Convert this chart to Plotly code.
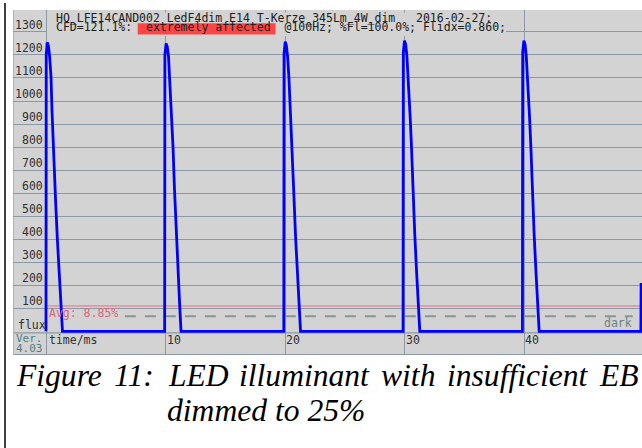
import plotly.graph_objects as go

# ---------------- data ----------------
time_ms = [
    0.00, 0.02, 0.10, 0.20, 0.30, 0.42, 0.50, 0.56, 0.68, 0.80, 0.95, 1.13, 1.26, 1.38,
    9.93, 9.95, 10.05, 10.15, 10.25, 10.35, 10.46, 10.52, 10.63, 10.75, 10.90, 11.05, 11.18, 11.30,
    19.90, 19.92, 20.02, 20.12, 20.22, 20.33, 20.43, 20.50, 20.61, 20.73, 20.88, 21.04, 21.17, 21.30,
    29.88, 29.90, 30.00, 30.10, 30.20, 30.31, 30.41, 30.48, 30.59, 30.71, 30.86, 31.02, 31.15, 31.28,
    39.87, 39.89, 39.99, 40.09, 40.19, 40.30, 40.40, 40.47, 40.58, 40.70, 40.85, 41.01, 41.14, 41.27,
    49.78, 49.80,
]
flux = [
    0, 1200, 1255, 1240, 1195, 1105, 960, 870, 720, 570, 400, 220, 113, 0,
    0, 1200, 1250, 1235, 1195, 1100, 1000, 930, 800, 620, 420, 250, 120, 0,
    0, 1205, 1258, 1240, 1190, 1100, 990, 920, 790, 610, 415, 245, 118, 0,
    0, 1210, 1262, 1245, 1195, 1105, 995, 925, 795, 615, 420, 250, 120, 0,
    0, 1210, 1262, 1245, 1195, 1105, 995, 925, 795, 615, 420, 250, 120, 0,
    0, 210,
]
y_ticks = [100, 200, 300, 400, 500, 600, 700, 800, 900, 1000, 1100, 1200, 1300]
y_tick_labels = [str(v) for v in y_ticks]
x_ticks = [0, 10, 20, 30, 40]
x_tick_labels = ["", "10", "20", "30", "40"]
avg_flux = 110
avg_label = "Avg: 8.85%"
dark_flux = 65
dark_span_ms = [6.6, 49.1]

NB = "\u00a0"
header_line1 = "HQ_LFE14CAND002_LedF4dim_E14_T-Kerze_345Lm_4W_dim" + NB * 3 + "2016-02-27:"
header_line2 = ("CFD=121.1%:" + NB * 2 + "extremely" + NB + "affected" + NB * 2
                + "@100Hz;" + NB + "%Fl=100.0%;" + NB + "Flidx=0.860;")
caption_line1 = "Figure 11: LED illuminant with insufficient EB"
caption_line2 = "dimmed to 25%"

# ---------------- layout geometry (pixels) ----------------
W, H = 642, 448
def px(x): return x / W
def py(y): return 1 - y / H

T_PX0, PX_PER_MS = 46.0, 11.95
V_PX0, PX_PER_UNIT = 331.3, 0.2303
x_range = [(13 - T_PX0) / PX_PER_MS, (642 - T_PX0) / PX_PER_MS]
y_range = [(V_PX0 - 355) / PX_PER_UNIT, (V_PX0 - 10) / PX_PER_UNIT]

BG = "#d3d3d3"
GRID = "#8b98a5"
MONO = "DejaVu Sans Mono"
FS = 11.5
CAP_FS = 31.6

fig = go.Figure()
fig.add_trace(go.Scatter(x=[0, x_range[1]], y=[avg_flux, avg_flux], mode="lines",
                         line=dict(color="#e07080", width=1), hoverinfo="skip"))
fig.add_trace(go.Scatter(x=dark_span_ms, y=[dark_flux, dark_flux], mode="lines",
                         line=dict(color="#8a9696", width=2, dash="11px,9px"), hoverinfo="skip"))
fig.add_trace(go.Scatter(x=time_ms, y=flux, mode="lines",
                         line=dict(color="#0000ff", width=2.8), hoverinfo="skip"))

shapes = []
shapes.append(dict(type="line", xref="paper", yref="paper", x0=px(5), x1=px(5), y0=py(3), y1=0,
                   line=dict(color="black", width=1.5)))
shapes.append(dict(type="line", xref="paper", yref="paper", x0=px(13), x1=1, y0=py(332.8), y1=py(332.8),
                   line=dict(color=GRID, width=1.2), layer="below"))
shapes.append(dict(type="line", xref="paper", yref="paper", x0=px(13), x1=1, y0=py(354.5), y1=py(354.5),
                   line=dict(color=GRID, width=1), layer="below"))
shapes.append(dict(type="line", xref="paper", yref="paper", x0=px(13.5), x1=px(13.5), y0=py(10), y1=py(355),
                   line=dict(color="#aab2ba", width=1), layer="below"))
shapes.append(dict(type="rect", xref="paper", yref="paper", x0=px(47), x1=px(506), y0=py(36), y1=py(12.5),
                   fillcolor=BG, line=dict(width=0), layer="above"))
shapes.append(dict(type="rect", xref="paper", yref="paper", x0=px(137.7), x1=px(275.5), y0=py(34.4), y1=py(23.3),
                   fillcolor="#ff4444", line=dict(width=0), layer="above"))

ann = []
def txt(text, x, y, color="#303030", size=FS, family=MONO, xanchor="left", style="normal"):
    ann.append(dict(text=text, x=x, y=y, xref="paper", yref="paper", xanchor=xanchor, yanchor="middle",
                    showarrow=False, borderpad=0,
                    font=dict(family=family, size=size, color=color, style=style)))

for v, lab in zip(y_ticks, y_tick_labels):
    ann.append(dict(text=lab, x=px(44.5), y=v, xref="paper", yref="y", xanchor="right", yanchor="bottom",
                    showarrow=False, yshift=-1, borderpad=0, font=dict(family=MONO, size=FS, color="#303030")))
for v, lab in zip(x_ticks, x_tick_labels):
    if lab:
        ann.append(dict(text=lab, x=v, y=py(339.5), xref="x", yref="paper", xanchor="left", yanchor="middle",
                        showarrow=False, borderpad=0, font=dict(family=MONO, size=FS, color="#303030")))

txt("flux", px(17), py(325))
txt("Ver.", px(15), py(338.3), color="#4f8088", size=11)
txt("4.03", px(15), py(348.7), color="#4f8088", size=11)
txt("time/ms", px(48), py(339.5))
txt(avg_label, px(48), py(312.5), color="#d9667a")
txt("dark", px(633), py(323), color="#6c8282", xanchor="right")
txt(header_line1, px(55), py(17.5), color="#202020")
txt(header_line2, px(55), py(27.2), color="#202020")

# justified caption, first line: words placed with widened spacing (Times-italic advance widths, em)
EM = {"F": .611, "i": .278, "g": .5, "u": .5, "r": .389, "e": .444, "1": .5, ":": .333, "L": .556,
      "E": .611, "D": .722, "l": .278, "m": .722, "n": .5, "a": .5, "t": .278, "w": .667, "h": .5,
      "s": .389, "f": .278, "c": .444, "B": .611}
gap = 0.25 * CAP_FS + 3.9
xpos = 15.0
for word in caption_line1.split(" "):
    txt(word, px(xpos), py(375), color="black", size=CAP_FS, family="Liberation Serif", style="italic")
    xpos += sum(EM.get(ch, .5) for ch in word) * CAP_FS + gap
txt(caption_line2, px(166), py(410), color="black", size=CAP_FS, family="Liberation Serif", style="italic")

fig.update_layout(
    width=W, height=H, margin=dict(l=0, r=0, t=0, b=0),
    paper_bgcolor="white", plot_bgcolor=BG, showlegend=False,
    xaxis=dict(domain=[px(13), 1], range=x_range, tickvals=x_ticks, showticklabels=False,
               showgrid=True, gridcolor=GRID, gridwidth=1, zeroline=False, showline=False, ticks=""),
    yaxis=dict(domain=[py(355), py(10)], range=y_range, tickvals=y_ticks, showticklabels=False,
               showgrid=True, gridcolor=GRID, gridwidth=1, zeroline=False, showline=False, ticks=""),
    shapes=shapes, annotations=ann,
)
fig.write_html("out.html", config={"displayModeBar": False},
               post_script="document.body.style.margin='0px';document.body.style.padding='0px';")
